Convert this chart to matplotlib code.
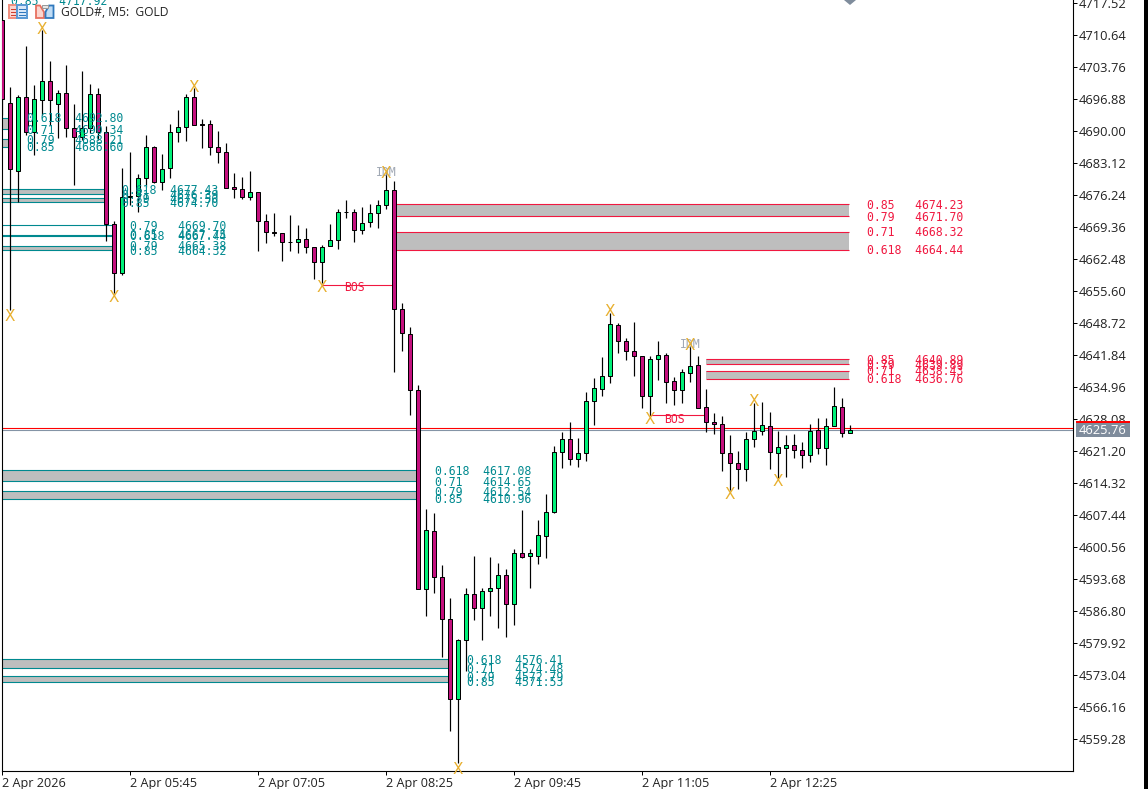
import matplotlib
matplotlib.use("Agg")
import matplotlib.pyplot as plt
from matplotlib.patches import Rectangle, Polygon

# ---------- data (prices) ----------
opens = [4713.87,4696.03,4681.41,4697.32,4689.79,4696.67,4700.76,4695.81,4698.18,4690.65,
         4688.72,4690.65,4697.96,4689.79,4670.01,4659.48,4675.82,4676.03,4679.90,4686.57,
         4679.04,4682.05,4689.79,4690.87,4697.32,4691.51,4691.51,4686.57,4685.49,4677.97,
         4677.54,4675.82,4676.89,4670.66,4668.29,4668.08,4666.14,4666.14,4666.79,4665.07,
         4661.84,4665.28,4666.57,4672.59,4672.59,4668.72,4670.44,4672.38,4674.10,4677.32,
         4651.74,4646.36,4634.32,4591.54,4604.00,4594.12,4585.09,4567.89,4580.57,4590.46,
         4587.45,4591.11,4591.75,4594.55,4588.31,4599.28,4598.63,4598.63,4602.93,4608.09,
         4620.99,4623.79,4619.49,4620.78,4631.96,4634.54,4637.33,4648.30,4644.86,4642.71,
         4641.63,4633.03,4640.99,4641.85,4636.25,4634.32,4637.98,4639.70,4630.67,4627.44,
         4627.01,4620.78,4618.63,4617.34,4623.79,4625.51,4626.58,4620.78,4621.85,4622.50,
         4621.42,4620.35,4625.72,4621.85,4626.58,4630.67,4625.07]
closes = [4696.89,4681.84,4697.32,4689.79,4696.89,4700.76,4696.67,4698.18,4690.65,4688.72,
          4690.65,4697.96,4689.79,4670.01,4659.48,4675.82,4676.03,4679.90,4686.57,4679.04,
          4681.84,4689.79,4690.87,4697.32,4691.30,4691.30,4686.57,4685.49,4677.75,4677.54,
          4675.82,4676.89,4670.66,4668.29,4668.08,4666.14,4666.04,4666.79,4665.07,4661.84,
          4665.07,4666.57,4672.59,4672.49,4668.72,4670.23,4672.38,4674.10,4677.32,4651.74,
          4646.58,4634.32,4591.54,4604.22,4594.12,4585.09,4567.89,4580.57,4590.46,4587.45,
          4591.11,4591.75,4594.55,4588.31,4599.28,4598.42,4599.28,4603.15,4608.09,4620.99,
          4623.79,4619.49,4620.78,4631.96,4634.75,4637.33,4648.51,4644.86,4642.71,4641.63,
          4633.03,4640.99,4641.85,4636.04,4634.32,4638.19,4639.48,4630.45,4627.44,4627.01,
          4620.78,4618.63,4617.34,4623.79,4625.51,4626.80,4620.99,4622.07,4622.50,4621.42,
          4620.35,4625.51,4621.85,4626.58,4630.88,4625.07,4625.72]
highs = [4713.87,4699.47,4697.75,4708.28,4699.90,4711.72,4705.06,4698.82,4704.20,4695.81,
         4702.91,4700.11,4699.25,4691.08,4670.66,4682.05,4685.49,4680.76,4689.15,4686.78,
         4685.06,4691.51,4694.52,4697.96,4699.25,4692.59,4692.37,4690.01,4687.43,4680.98,
         4680.12,4681.41,4676.89,4672.16,4672.38,4668.08,4671.95,4669.80,4669.15,4665.07,
         4665.50,4670.01,4673.24,4675.17,4673.24,4673.67,4674.31,4675.17,4680.98,4679.26,
         4653.03,4647.87,4635.40,4608.74,4607.88,4596.70,4589.60,4580.78,4591.75,4598.63,
         4591.75,4598.42,4597.13,4595.84,4600.14,4608.52,4600.14,4606.37,4611.96,4622.28,
         4625.29,4627.44,4624.00,4633.89,4636.90,4641.42,4650.88,4648.73,4645.50,4648.94,
         4641.63,4641.63,4644.86,4642.28,4637.12,4638.84,4643.78,4641.63,4634.54,4629.37,
         4628.73,4624.65,4621.20,4625.29,4631.53,4631.74,4629.59,4625.51,4624.65,4624.86,
         4623.14,4627.01,4628.30,4628.30,4634.97,4632.60,4626.80]
lows = [4693.45,4651.52,4674.74,4689.15,4684.85,4693.45,4691.30,4688.50,4688.72,4678.40,
        4688.07,4689.58,4688.07,4666.36,4655.18,4659.05,4674.10,4672.59,4677.97,4678.83,
        4677.32,4679.90,4687.64,4687.86,4691.30,4686.35,4684.85,4683.13,4677.75,4675.60,
        4675.39,4675.17,4664.21,4665.93,4667.43,4662.06,4664.21,4663.78,4663.78,4658.19,
        4657.33,4665.28,4664.64,4671.30,4666.14,4667.86,4669.37,4669.15,4673.24,4638.19,
        4642.71,4628.95,4591.54,4585.73,4590.68,4576.92,4561.01,4554.13,4573.91,4584.87,
        4580.57,4585.73,4583.15,4581.22,4583.80,4598.20,4591.75,4596.91,4598.20,4607.88,
        4617.55,4618.20,4617.77,4619.06,4626.80,4633.03,4635.83,4642.28,4640.77,4637.33,
        4630.45,4628.95,4636.47,4631.53,4631.10,4631.53,4636.04,4630.45,4625.29,4624.86,
        4616.91,4612.82,4613.04,4614.75,4622.07,4624.65,4617.34,4615.40,4615.62,4619.70,
        4617.55,4618.84,4620.56,4618.20,4626.58,4624.22,4625.07]

y_ticks = [4717.52,4710.64,4703.76,4696.88,4690.00,4683.12,4676.24,4669.36,4662.48,4655.60,
           4648.72,4641.84,4634.96,4628.08,4621.20,4614.32,4607.44,4600.56,4593.68,4586.80,
           4579.92,4573.04,4566.16,4559.28]
x_tick_idx = [0,16,32,48,64,80,96]
x_tick_labels = ["2 Apr 2026","2 Apr 05:45","2 Apr 07:05","2 Apr 08:25","2 Apr 09:45","2 Apr 11:05","2 Apr 12:25"]

bid_price = 4625.76
ask_price = 4626.09

# Fibonacci zones: ratio levels with prices, zone start/end candle, label candle
fib_ratios = ["0.618","0.71","0.79","0.85"]
teal_zones = [
    ([4692.80,4690.34,4688.21,4686.60], 1.0, 3.05),
    ([4677.43,4676.39,4675.50,4674.70], 12.9, 14.98),
    ([4669.70,4667.75,4667.44,4665.38,4664.32], 13.9, 16.0),
    ([4617.08,4614.65,4612.54,4610.96], 51.7, 54.05),
    ([4576.41,4574.48,4572.79,4571.53], 55.7, 58.05),
]
red_zones = [
    ([4664.44,4668.32,4671.70,4674.23], 49.2, 105.8, 108.1),
    ([4636.76,4638.43,4639.89,4640.89], 88.0, 105.8, 108.1),
]
teal_d_ratios = ["0.79","0.85","0.618","0.79","0.85"]
top_label = ("0.85", 4717.92)

bos_lines = [(40.0, 49.0, 4656.89, 42.75, 4656.46), (81.0, 88.0, 4628.95, 82.75, 4628.08)]

swing_x = [1,5,14,24,40,48,57,76,81,86,91,94,97]
swing_y = [4650.45,4712.15,4654.53,4699.68,4656.68,4681.19,4553.05,4651.52,4628.30,4644.21,4612.17,4632.17,4614.97]
idm_x = [48,86]
idm_y = [4681.19,4644.21]

GREEN = "#00f078"
MAGENTA = "#c4107e"
TEAL = "#00898f"
CRIMSON = "#f01840"
GREY = "#bebebe"
GOLD = "#e8b030"
W, H = 1148, 789

plt.rcParams['font.family'] = ['Liberation Sans','DejaVu Sans']
fig = plt.figure(figsize=(W/100, H/100), dpi=100, facecolor="white")
L, R, T, B = 2.0, 1073.0, 0.0, 771.0
ax = fig.add_axes([L/W, 1-B/H, (R-L)/W, (B-T)/H])
ax.set_ylim(4718.17-0.215*B, 4718.17)
ax.set_xlim((L-2.2)/8, (R-2.2)/8)
px = 0.72  # one pixel in points
TXT_DY = 0.2  # labels sit one pixel under their level
X_DY = 0.35   # swing marks sit a little under their anchor

ax.spines["top"].set_visible(False)
for s in ("left","right","bottom"):
    ax.spines[s].set_linewidth(px*1.1)

def band(y0, y1, x0, x1):
    ax.fill_between([x0, x1], y0, y1, color=GREY, lw=0, zorder=1)
def hl(y, x0, x1, c):
    ax.plot([x0, x1], [y, y], color=c, lw=px*1.1, zorder=1.5, solid_capstyle="butt")
mono = dict(family="DejaVu Sans Mono", fontsize=8.3, va="center", ha="left", zorder=6, clip_on=True)

for prices, x1, xt in teal_zones:
    n = len(prices)
    if n == 4:
        band(prices[1], prices[0], -1, x1)
        band(prices[3], prices[2], -1, x1)
        ratios = fib_ratios
    else:
        band(prices[2], prices[1], -1, x1)
        band(prices[4], prices[3], -1, x1)
        ratios = teal_d_ratios
    for p, r in zip(prices, ratios):
        hl(p, -1, x1, TEAL)
        ax.text(xt, p-TXT_DY, f"{r:<7}{p:.2f}", color=TEAL, **mono)
ax.text(1.1, top_label[1], f"{top_label[0]:<7}{top_label[1]:.2f}", color=TEAL, **mono)

for prices, x0, x1, xt in red_zones:
    band(prices[1], prices[0], x0, x1)
    band(prices[3], prices[2], x0, x1)
    for p, r in zip(prices, fib_ratios):
        hl(p, x0, x1, CRIMSON)
        ax.text(xt, p-TXT_DY, f"{r:<7}{p:.2f}", color=CRIMSON, **mono)

# price lines
ax.axhline(bid_price, color="#8494a6", lw=px*1.1, zorder=2)
ax.axhline(ask_price, color="#ff0000", lw=px*1.1, zorder=2)

# candles
xs = list(range(len(opens)))
ax.vlines(xs, lows, highs, color="black", lw=px*1.2, zorder=3)
for i in xs:
    o, c = opens[i], closes[i]
    col = GREEN if c >= o else MAGENTA
    ax.add_patch(Rectangle((i-0.28, min(o, c)), 0.56, abs(c-o), facecolor=col, edgecolor="black",
                           lw=px, zorder=4, joinstyle="miter"))

# BOS
for x0, x1, y, xt, yt in bos_lines:
    ax.plot([x0, x1], [y, y], color=CRIMSON, lw=px*1.1, zorder=2.5)
    ax.text(xt, yt, "BOS", color=CRIMSON, family="DejaVu Sans Mono", fontsize=8.3, va="center", ha="left", zorder=6)

# IDM and swing marks
for x, y in zip(idm_x, idm_y):
    ax.text(x, y, "IDM", color="#a0a8b4", family="DejaVu Sans Mono", fontsize=8.3, va="center", ha="center", zorder=6)
for x, y in zip(swing_x, swing_y):
    ax.text(x, y-X_DY, "X", color=GOLD, family="DejaVu Sans", fontsize=11, va="center", ha="center", zorder=7)

# axes
ax.yaxis.tick_right()
ax.set_yticks(y_ticks)
ax.set_yticklabels([f"{v:.2f}" for v in y_ticks], fontsize=9.3, color="#222222", family="Open Sans")
ax.tick_params(axis="y", length=4*px, width=px, pad=1.5*px)
ax.set_xticks(x_tick_idx)
ax.set_xticklabels(x_tick_labels, fontsize=9.1, color="#222222", ha="left", family="Open Sans")
ax.tick_params(axis="x", length=4*px, width=px, pad=1.5*px)

# header and price tag, in figure pixels
def fx(x): return x/W
def fy(y): return 1-y/H
fig.text(fx(61), fy(13), "GOLD#, M5:  GOLD", fontsize=8.7, color="#222222", family="Open Sans", va="center", ha="left")
def frect(x0, y0, x1, y1, **kw):
    fig.add_artist(Rectangle((fx(x0), fy(y1)), (x1-x0)/W, (y1-y0)/H, transform=fig.transFigure, **kw))
frect(1076, 423, 1130, 437, facecolor="#7f8c9c", edgecolor="none", zorder=8)
frect(1076, 421, 1130, 422.8, facecolor="#ff0000", edgecolor="none", zorder=8)
fig.text(fx(1103), fy(430.5), f"{bid_price:.2f}", fontsize=9.3, color="white", family="Open Sans", va="center", ha="center", zorder=9)

# black strip on the right edge
frect(1144, 0, 1148, 789, facecolor="black", edgecolor="none", zorder=8)

# toolbar icons
frect(9, 5.5, 27, 18, facecolor="#fbd5cf", edgecolor="#f0907f", lw=px*2, zorder=8)
frect(17, 5.5, 27, 18, facecolor="#d8e8f8", edgecolor="#5b9ad4", lw=px*2, zorder=8)
for yy in (9, 12, 15):
    frect(11, yy, 16, yy+1, facecolor="#d04030", edgecolor="none", zorder=9)
    frect(18.5, yy, 25.5, yy+1, facecolor="#2f78bd", edgecolor="none", zorder=9)
fig.add_artist(Polygon([(fx(36), fy(5.5)), (fx(40), fy(5.5)), (fx(44), fy(12)), (fx(44), fy(18)), (fx(36), fy(18))],
                       closed=True, transform=fig.transFigure, facecolor="#fbd5cf", edgecolor="#e8705f", lw=px*1.8, zorder=8))
fig.add_artist(Polygon([(fx(53.5), fy(5.5)), (fx(49), fy(5.5)), (fx(45.5), fy(12)), (fx(45.5), fy(18)), (fx(53.5), fy(18))],
                       closed=True, transform=fig.transFigure, facecolor="#c0dcf5", edgecolor="#2f78bd", lw=px*1.8, zorder=8))
frect(41.5, 5, 47.5, 8, facecolor="#e6e6e6", edgecolor="#9a9a9a", lw=px, zorder=9)

# marker at the top of the chart
fig.add_artist(Polygon([(fx(844), fy(0)), (fx(856), fy(0)), (fx(850), fy(5))], closed=True,
                       transform=fig.transFigure, facecolor="#7f8c9c", edgecolor="none", zorder=8))

fig.savefig("out.png", dpi=100, facecolor="white")
